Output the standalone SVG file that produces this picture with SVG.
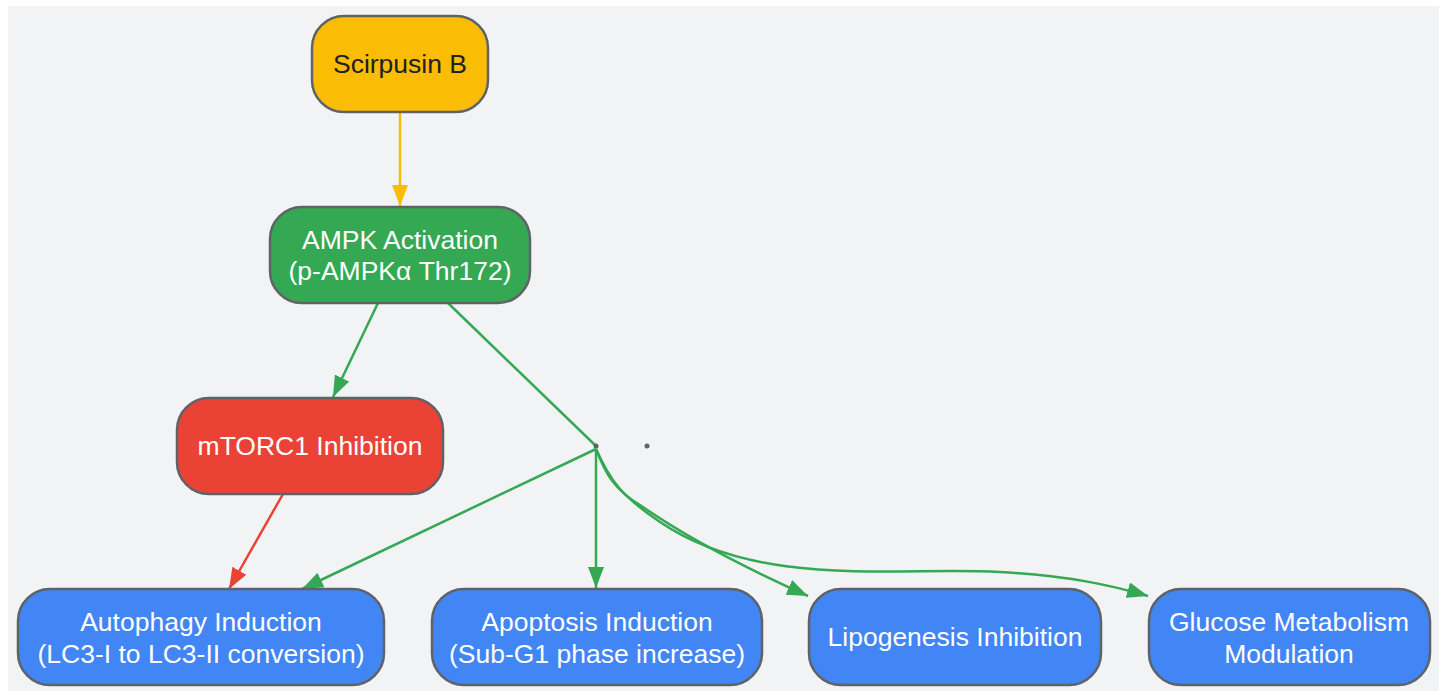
<svg xmlns="http://www.w3.org/2000/svg" width="1445" height="692" viewBox="0 0 1445 692">
<defs>
<style>
.n{stroke:#5f6368;stroke-width:2.5}
.t{font-family:"Liberation Sans",Arial,sans-serif;font-size:26.5px;text-anchor:middle;fill:#ffffff}
.d{fill:#202124}
.e{fill:none;stroke-width:2.5}
</style>
<marker id="ay" viewBox="0 0 21 16" refX="21" refY="8" markerWidth="21" markerHeight="16" markerUnits="userSpaceOnUse" orient="auto"><path d="M0,0 L21,8 L0,16 z" fill="#fbbc04"/></marker>
<marker id="ag" viewBox="0 0 21 16" refX="21" refY="8" markerWidth="21" markerHeight="16" markerUnits="userSpaceOnUse" orient="auto"><path d="M0,0 L21,8 L0,16 z" fill="#34a853"/></marker>
<marker id="ar" viewBox="0 0 21 16" refX="21" refY="8" markerWidth="21" markerHeight="16" markerUnits="userSpaceOnUse" orient="auto"><path d="M0,0 L21,8 L0,16 z" fill="#ea4335"/></marker>
</defs>
<rect x="0" y="0" width="1445" height="692" fill="#ffffff"/>
<rect x="8" y="6" width="1431" height="685" fill="#f1f3f5"/>
<g id="edges">
<path class="e" d="M400,112 L400,206" stroke="#fbbc04" marker-end="url(#ay)"/>
<path class="e" d="M378,303 L333,397" stroke="#34a853" marker-end="url(#ag)"/>
<path class="e" d="M448,303 L596,446" stroke="#34a853"/>
<path class="e" d="M596,449 L302,589" stroke="#34a853" marker-end="url(#ag)"/>
<path class="e" d="M596,449 L596,588" stroke="#34a853" marker-end="url(#ag)"/>
<path class="e" d="M596,449 C606,475 615,490 640,505 C690,540 750,570 808,596" stroke="#34a853" marker-end="url(#ag)"/>
<path class="e" d="M596,449 C610,480 620,495 660,522 C760,590 900,566 1000,572 C1070,576 1110,585 1148,596" stroke="#34a853" marker-end="url(#ag)"/>
<path class="e" d="M283,494 L229,589" stroke="#ea4335" marker-end="url(#ar)"/>
<circle cx="596" cy="446" r="2.5" fill="#5f6368"/>
<circle cx="647" cy="446" r="2.5" fill="#5f6368"/>
</g>
<g id="scirpusin">
<rect class="n" x="312" y="16" width="176" height="96" rx="32" fill="#fbbc04"/>
<text class="t d" x="400" y="73">Scirpusin B</text>
</g>
<g id="ampk">
<rect class="n" x="270" y="207" width="260" height="96" rx="32" fill="#34a853"/>
<text class="t" x="400" y="249">AMPK Activation</text>
<text class="t" x="400" y="280">(p-AMPKα Thr172)</text>
</g>
<g id="mtorc1">
<rect class="n" x="177" y="398" width="266" height="96" rx="32" fill="#ea4335"/>
<text class="t" x="310" y="455">mTORC1 Inhibition</text>
</g>
<g id="autophagy">
<rect class="n" x="18" y="589" width="366" height="96" rx="32" fill="#4285f4"/>
<text class="t" x="201" y="631">Autophagy Induction</text>
<text class="t" x="201" y="663">(LC3-I to LC3-II conversion)</text>
</g>
<g id="apoptosis">
<rect class="n" x="432" y="589" width="330" height="96" rx="32" fill="#4285f4"/>
<text class="t" x="597" y="631">Apoptosis Induction</text>
<text class="t" x="597" y="663">(Sub-G1 phase increase)</text>
</g>
<g id="lipogenesis">
<rect class="n" x="809" y="589" width="292" height="96" rx="32" fill="#4285f4"/>
<text class="t" x="955" y="646">Lipogenesis Inhibition</text>
</g>
<g id="glucose">
<rect class="n" x="1149" y="589" width="281" height="96" rx="32" fill="#4285f4"/>
<text class="t" x="1289" y="631">Glucose Metabolism</text>
<text class="t" x="1289" y="663">Modulation</text>
</g>
</svg>
